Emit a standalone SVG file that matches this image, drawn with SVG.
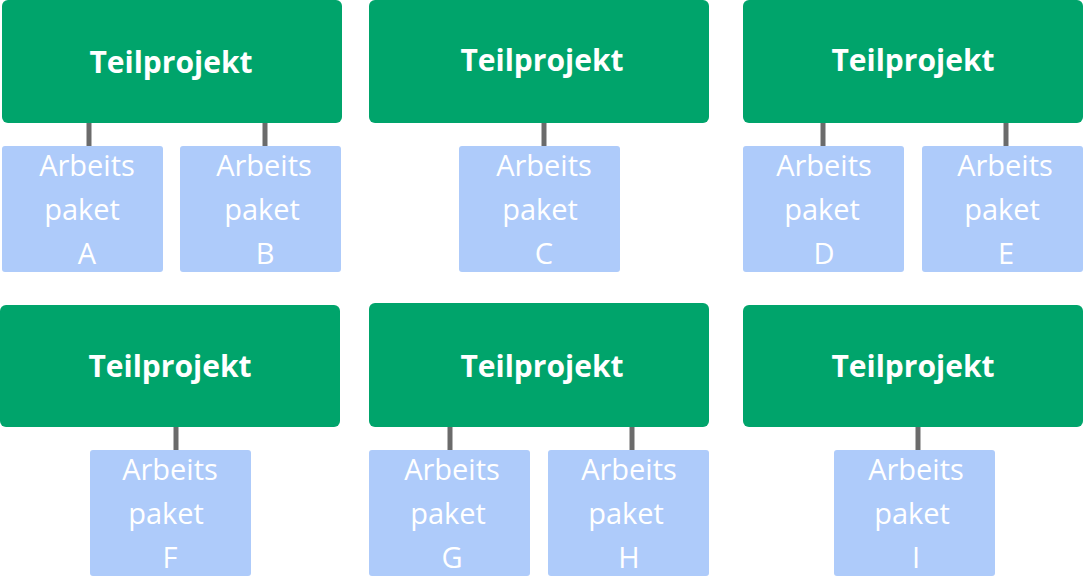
<svg xmlns="http://www.w3.org/2000/svg" width="1084" height="576" viewBox="0 0 1084 576">
<style>
.tp{fill:#00a46b}
.ap{fill:#aecbfa}
.tt{font-family:"Open Sans",sans-serif;font-weight:bold;font-size:30px;fill:#fff;text-anchor:middle}
.at{font-family:"Open Sans",sans-serif;font-size:29px;fill:#fff;text-anchor:middle}
.c line{stroke:#6b6b6b;stroke-width:5}
</style>
<rect width="1084" height="576" fill="#fff"/>
<g class="c">
<line x1="89" y1="122" x2="89" y2="147"/><line x1="265" y1="122" x2="265" y2="147"/>
<line x1="544" y1="122" x2="544" y2="147"/>
<line x1="823" y1="122" x2="823" y2="147"/><line x1="1006" y1="122" x2="1006" y2="147"/>
<line x1="176" y1="426" x2="176" y2="451"/>
<line x1="450" y1="426" x2="450" y2="451"/><line x1="632" y1="426" x2="632" y2="451"/>
<line x1="918" y1="426" x2="918" y2="451"/>
</g>
<g id="tp1"><rect class="tp" x="2" y="0" width="340" height="123" rx="6"/><text class="tt" x="171" y="73">Teilprojekt</text></g>
<g id="tp2"><rect class="tp" x="369" y="0" width="340" height="123" rx="6"/><text class="tt" x="542" y="71">Teilprojekt</text></g>
<g id="tp3"><rect class="tp" x="743" y="0" width="340" height="123" rx="6"/><text class="tt" x="913" y="71">Teilprojekt</text></g>
<g id="tp4"><rect class="tp" x="0" y="305" width="340" height="122" rx="6"/><text class="tt" x="170" y="377">Teilprojekt</text></g>
<g id="tp5"><rect class="tp" x="369" y="303" width="340" height="124" rx="6"/><text class="tt" x="542" y="377">Teilprojekt</text></g>
<g id="tp6"><rect class="tp" x="743" y="305" width="340" height="122" rx="6"/><text class="tt" x="913" y="377">Teilprojekt</text></g>
<g id="apA"><rect class="ap" x="2" y="146" width="161" height="126" rx="3"/><text class="at" x="87"><tspan x="87" y="176">Arbeits</tspan><tspan x="82" y="220">paket</tspan><tspan x="87" y="264">A</tspan></text></g>
<g id="apB"><rect class="ap" x="180" y="146" width="161" height="126" rx="3"/><text class="at"><tspan x="264" y="176">Arbeits</tspan><tspan x="262" y="220">paket</tspan><tspan x="265" y="264">B</tspan></text></g>
<g id="apC"><rect class="ap" x="459" y="146" width="161" height="126" rx="3"/><text class="at"><tspan x="544" y="176">Arbeits</tspan><tspan x="540" y="220">paket</tspan><tspan x="544" y="264">C</tspan></text></g>
<g id="apD"><rect class="ap" x="743" y="146" width="161" height="126" rx="3"/><text class="at"><tspan x="824" y="176">Arbeits</tspan><tspan x="822" y="220">paket</tspan><tspan x="824" y="264">D</tspan></text></g>
<g id="apE"><rect class="ap" x="922" y="146" width="161" height="126" rx="3"/><text class="at"><tspan x="1005" y="176">Arbeits</tspan><tspan x="1002" y="220">paket</tspan><tspan x="1006" y="264">E</tspan></text></g>
<g id="apF"><rect class="ap" x="90" y="450" width="161" height="126" rx="3"/><text class="at"><tspan x="170" y="480">Arbeits</tspan><tspan x="166" y="524">paket</tspan><tspan x="170" y="568">F</tspan></text></g>
<g id="apG"><rect class="ap" x="369" y="450" width="161" height="126" rx="3"/><text class="at"><tspan x="452" y="480">Arbeits</tspan><tspan x="448" y="524">paket</tspan><tspan x="452" y="568">G</tspan></text></g>
<g id="apH"><rect class="ap" x="548" y="450" width="161" height="126" rx="3"/><text class="at"><tspan x="629" y="480">Arbeits</tspan><tspan x="626" y="524">paket</tspan><tspan x="629" y="568">H</tspan></text></g>
<g id="apI"><rect class="ap" x="834" y="450" width="161" height="126" rx="3"/><text class="at"><tspan x="916" y="480">Arbeits</tspan><tspan x="912" y="524">paket</tspan><tspan x="916" y="568">I</tspan></text></g>
</svg>
